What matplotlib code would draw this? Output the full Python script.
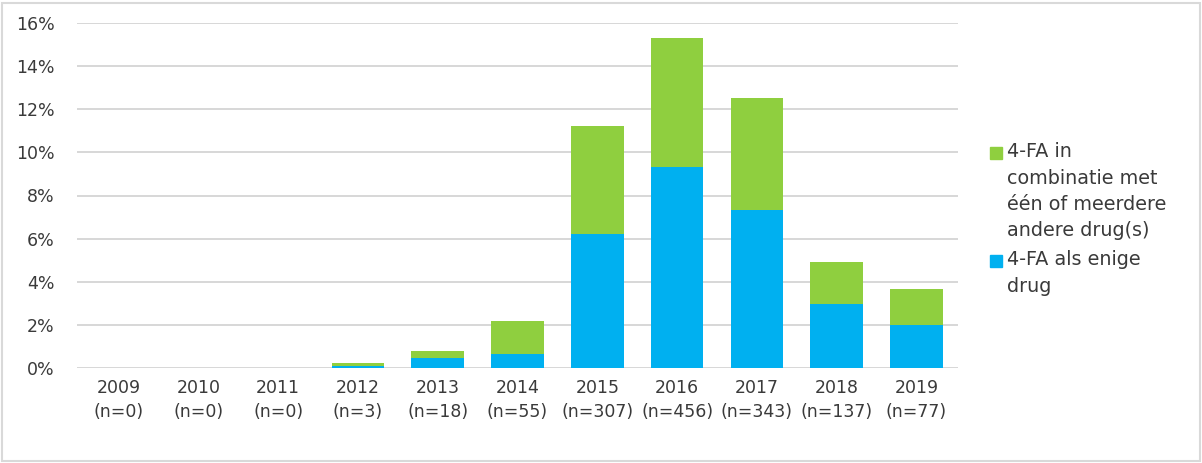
import matplotlib.pyplot as plt
import numpy as np
from matplotlib.patches import Rectangle

plt.rcParams['font.family'] = ['DejaVu Sans']

years = ["2009", "2010", "2011", "2012", "2013", "2014", "2015", "2016", "2017", "2018", "2019"]
n_counts = [0, 0, 0, 3, 18, 55, 307, 456, 343, 137, 77]
# percentages
alleen = [0, 0, 0, 0.1, 0.46, 0.65, 6.2, 9.32, 7.33, 2.97, 1.99]
combinatie = [0, 0, 0, 0.13, 0.33, 1.53, 5.02, 5.98, 5.19, 1.95, 1.67]

label_comb = "4-FA in\ncombinatie met\néén of meerdere\nandere drug(s)"
label_alleen = "4-FA als enige\ndrug"

green = "#8FCF3F"
blue = "#00B0F0"
txt = "#3a3a3a"

fig = plt.figure(figsize=(12.02, 4.63), dpi=100)
ax = fig.add_axes([77 / 1202, 1 - 368 / 463, (958 - 77) / 1202, (368 - 23) / 463])

x = np.arange(len(years))
ax.bar(x, alleen, width=0.66, color=blue, label=label_alleen, zorder=3)
ax.bar(x, combinatie, width=0.66, bottom=alleen, color=green, label=label_comb, zorder=3)

ax.set_ylim(0, 16)
ax.set_xlim(-0.52, len(years) - 0.48)
ax.set_yticks(np.arange(0, 17, 2))
ax.set_yticklabels([f"{v}%" for v in range(0, 17, 2)], color=txt, fontsize=12.5)
ax.set_xticks(x)
ax.set_xticklabels([f"{y}\n(n={n})" for y, n in zip(years, n_counts)], color=txt,
                   fontsize=12.5, linespacing=1.45)
ax.tick_params(axis='both', length=0)
ax.tick_params(axis='x', pad=8)
ax.tick_params(axis='y', pad=16)
ax.grid(axis='y', color='#d4d4d4', linewidth=1.3, zorder=0)
for s in ax.spines.values():
    s.set_visible(False)

# legend drawn on the figure, green first
items = [(green, label_comb, 153), (blue, label_alleen, 261)]
for col, lab, ypix in items:
    fig.patches.append(Rectangle((990 / 1202, 1 - (ypix + 6) / 463), 12 / 1202, 12 / 463,
                                 transform=fig.transFigure, color=col, figure=fig))
    fig.text(1007 / 1202, 1 - (ypix - 11) / 463, lab, color=txt, fontsize=13.8,
             va='top', ha='left', linespacing=1.5)

# outer frame
fig.patches.append(Rectangle((0.002, 0.004), 0.996, 0.99, transform=fig.transFigure,
                             fill=False, edgecolor='#d9d9d9', linewidth=1.5, figure=fig))

fig.savefig("out.png", dpi=100)
